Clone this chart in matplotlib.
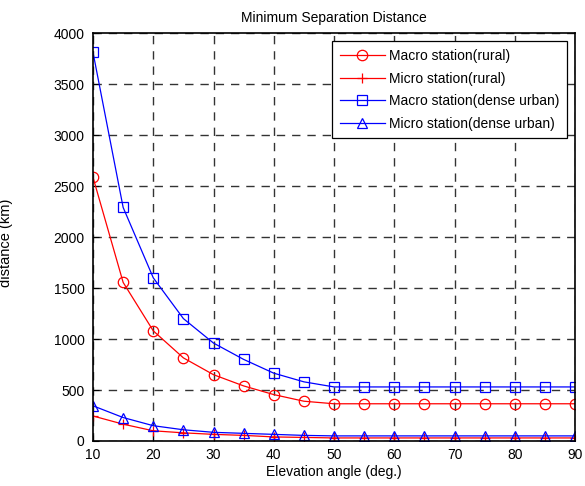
import matplotlib
matplotlib.use("Agg")
import matplotlib.pyplot as plt

plt.rcParams['font.family'] = ['Liberation Sans', 'DejaVu Sans']

elevation = [10, 15, 20, 25, 30, 35, 40, 45, 50, 55, 60, 65, 70, 75, 80, 85, 90]
macro_rural = [2585, 1555, 1080, 815, 650, 540, 455, 390, 365, 365, 365, 365, 365, 365, 365, 365, 365]
micro_rural = [245, 165, 100, 80, 65, 55, 40, 35, 30, 30, 30, 30, 30, 30, 30, 30, 30]
macro_urban = [3810, 2290, 1600, 1200, 960, 800, 665, 580, 530, 530, 530, 530, 530, 530, 530, 530, 530]
micro_urban = [345, 230, 150, 110, 85, 75, 65, 55, 50, 50, 50, 50, 50, 50, 50, 50, 50]
labels = ['Macro station(rural)', 'Micro station(rural)',
          'Macro station(dense urban)', 'Micro station(dense urban)']

fig = plt.figure(figsize=(5.85, 4.86), dpi=100)
ax = fig.add_axes([0.159, 0.0926, 0.824, 0.8394])

lw = 0.9
ms = 7.5
ax.plot(elevation, macro_rural, color='red', marker='o', markersize=ms, markerfacecolor='none',
        markeredgewidth=0.9, linewidth=lw, label=labels[0])
ax.plot(elevation, micro_rural, color='red', marker='+', markersize=ms,
        markeredgewidth=0.9, linewidth=lw, label=labels[1])
ax.plot(elevation, macro_urban, color='blue', marker='s', markersize=ms - 0.5, markerfacecolor='none',
        markeredgewidth=0.9, linewidth=lw, label=labels[2])
ax.plot(elevation, micro_urban, color='blue', marker='^', markersize=ms, markerfacecolor='none',
        markeredgewidth=0.9, linewidth=lw, label=labels[3])

ax.set_xlim(10, 90)
ax.set_ylim(0, 4000)
ax.set_xticks(range(10, 91, 10))
ax.set_yticks(range(0, 4001, 500))
ax.grid(True, color='#333333', linestyle=(0, (6, 5)), linewidth=1.0)
ax.tick_params(direction='in', labelsize=10, length=4, width=0.8)
ax.tick_params(axis='x', pad=5)
ax.tick_params(axis='y', pad=6)
for s in ax.spines.values():
    s.set_linewidth(1.2)

ax.set_xlabel('Elevation angle (deg.)', fontsize=10, labelpad=2)
ax.set_title('Minimum Separation Distance', fontsize=10, pad=8)
fig.text(0.011, 0.5, 'distance (km)', rotation=90, ha='center', va='center', fontsize=10.5)

leg = ax.legend(loc='upper right', fontsize=10, fancybox=False, edgecolor='black',
                framealpha=1, borderaxespad=0.6, handlelength=3.2, labelspacing=0.62,
                borderpad=0.55, handletextpad=0.3)
leg.get_frame().set_linewidth(0.9)

fig.savefig('out.png', dpi=100)
